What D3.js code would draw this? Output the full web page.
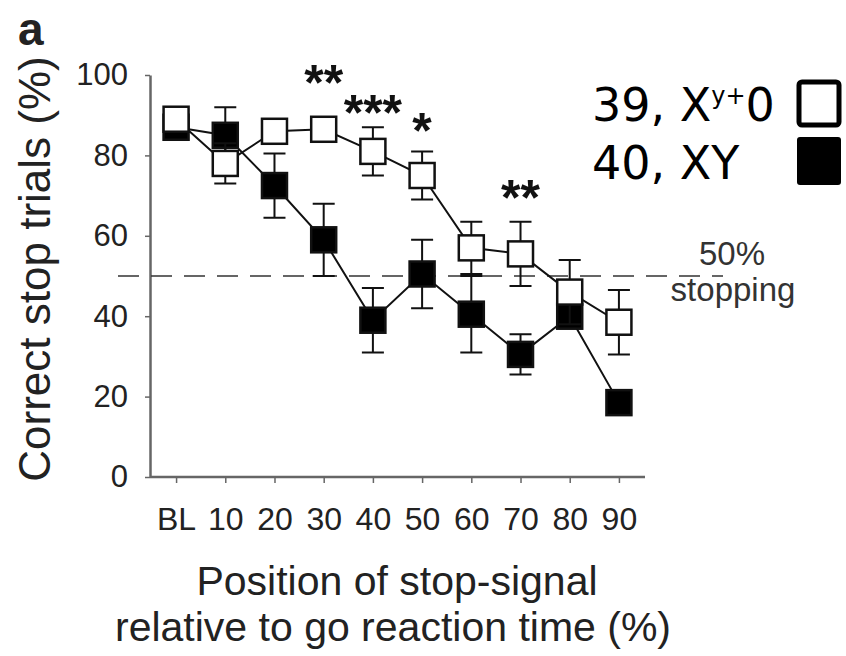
<!DOCTYPE html>
<html>
<head>
<meta charset="utf-8">
<script src="https://cdn.jsdelivr.net/npm/d3@7"></script>
<style>
  body { margin: 0; background: #fff; }
  svg { display: block; }
</style>
</head>
<body>
<svg id="chart" width="846" height="656"></svg>
<script>
const categories = ["BL", "10", "20", "30", "40", "50", "60", "70", "80", "90"];
const yTicks = [0, 20, 40, 60, 80, 100];

// 39, Xy+0 (open squares)
const openMean = [89, 78, 86, 86.5, 81, 75, 57, 55.5, 46, 38.5];
const openErr  = [2, 5, 3, 2, 6, 6, 6.5, 8, 8, 8];
// 40, XY (filled squares)
const filledMean = [87, 85, 72.5, 59, 39, 50.5, 40.5, 30.5, 40, 18.5];
const filledErr  = [2, 7, 8, 9, 8, 8.5, 9.5, 5, 3, 3];

const starCats  = ["30", "40", "50", "70"];
const starVals  = [101, 93.5, 89, 72.5];
const starTexts = ["**", "***", "*", "**"];

const threshold = 50;

const svg = d3.select("#chart");
const ink = "#222";
const sans = "Liberation Sans, Arial, sans-serif";

const x = d3.scalePoint()
    .domain(categories)
    .range([150, 645])
    .padding(0.53);

const y = d3.scaleLinear()
    .domain([0, 100])
    .range([477, 75]);

// panel letter
svg.append("text")
    .attr("x", 18).attr("y", 45)
    .attr("font-family", sans)
    .attr("font-weight", "bold")
    .attr("font-size", 46)
    .attr("fill", ink)
    .text("a");

// AXES
const yAxis = svg.append("g")
    .attr("transform", "translate(150,0)")
    .call(d3.axisLeft(y).tickValues(yTicks).tickSize(5).tickSizeOuter(0).tickPadding(17));

const xAxis = svg.append("g")
    .attr("transform", `translate(0,${y(0)})`)
    .call(d3.axisBottom(x).tickSize(6).tickSizeOuter(0).tickPadding(25));
xAxis.select(".domain").attr("d", `M150,0H645`);

[yAxis, xAxis].forEach(a => {
    a.select(".domain").attr("stroke", "#666").attr("stroke-width", 2.5);
    a.selectAll(".tick line").attr("stroke", "#666").attr("stroke-width", 1.5);
    a.selectAll(".tick text")
        .attr("fill", ink)
        .attr("font-family", sans)
        .attr("font-size", 31);
});
xAxis.selectAll(".tick text").attr("font-size", 32).attr("dy", "0.7em");

// axis titles
svg.append("text")
    .attr("transform", "translate(50,269) rotate(-90)")
    .attr("text-anchor", "middle")
    .attr("font-family", sans)
    .attr("font-size", 44)
    .attr("fill", ink)
    .text("Correct stop trials (%)");

const xTitle = svg.append("text")
    .attr("text-anchor", "middle")
    .attr("font-family", sans)
    .attr("font-size", 41)
    .attr("fill", ink);
xTitle.append("tspan").attr("x", 397).attr("y", 595).text("Position of stop-signal");
xTitle.append("tspan").attr("x", 393).attr("y", 641).text("relative to go reaction time (%)");

// 50% line
svg.append("line")
    .attr("x1", 118).attr("x2", 723)
    .attr("y1", y(threshold)).attr("y2", y(threshold))
    .attr("stroke", "#333")
    .attr("stroke-width", 1.6)
    .attr("stroke-dasharray", "21,12");

const thrLabel = svg.append("text")
    .attr("text-anchor", "middle")
    .attr("font-family", sans)
    .attr("font-size", 33)
    .attr("fill", "#333");
thrLabel.append("tspan").attr("x", 732).attr("y", 265).text("50%");
thrLabel.append("tspan").attr("x", 733).attr("y", 301).text("stopping");

// series
const sq = 25, cap = 22;
function drawSeries(means, errs, fill) {
    const data = categories.map((c, i) => ({ c, m: means[i], e: errs[i] }));
    const g = svg.append("g");
    g.selectAll(".err").data(data).enter().append("path")
        .attr("fill", "none").attr("stroke", "#111").attr("stroke-width", 2)
        .attr("d", d => {
            const cx = x(d.c), y1 = y(d.m + d.e), y2 = y(d.m - d.e);
            return `M${cx},${y1}V${y2}M${cx - cap / 2},${y1}h${cap}M${cx - cap / 2},${y2}h${cap}`;
        });
    g.append("path").datum(data)
        .attr("fill", "none").attr("stroke", "#111").attr("stroke-width", 2)
        .attr("d", d3.line().x(d => x(d.c)).y(d => y(d.m)));
    g.selectAll(".pt").data(data).enter().append("rect")
        .attr("x", d => x(d.c) - sq / 2)
        .attr("y", d => y(d.m) - sq / 2)
        .attr("width", sq).attr("height", sq)
        .attr("fill", fill)
        .attr("stroke", "#111")
        .attr("stroke-width", 2.5);
}
drawSeries(filledMean, filledErr, "#000");
drawSeries(openMean, openErr, "#fff");

// significance stars
svg.selectAll(".star").data(starCats).enter().append("text")
    .attr("x", d => x(d))
    .attr("y", (d, i) => y(starVals[i]) + 29)
    .attr("text-anchor", "middle")
    .attr("font-family", sans)
    .attr("font-weight", "bold")
    .attr("font-size", 50)
    .attr("fill", "#111")
    .text((d, i) => starTexts[i]);

// legend
const legFont = "DejaVu Sans, sans-serif";
const l1 = svg.append("text")
    .attr("x", 592).attr("y", 121)
    .attr("font-family", legFont).attr("font-size", 46).attr("fill", "#000");
l1.append("tspan").text("39, X");
l1.append("tspan").attr("font-size", 24).attr("dy", -17).text("y+");
l1.append("tspan").attr("dy", 17).text("0");

svg.append("text")
    .attr("x", 592).attr("y", 179)
    .attr("font-family", legFont).attr("font-size", 46).attr("fill", "#000")
    .text("40, XY");

svg.append("rect").attr("x", 799).attr("y", 82).attr("width", 40).attr("height", 43)
    .attr("rx", 3).attr("fill", "#fff").attr("stroke", "#000").attr("stroke-width", 5);
svg.append("rect").attr("x", 797).attr("y", 137).attr("width", 44).attr("height", 48)
    .attr("rx", 3).attr("fill", "#000");
</script>
</body>
</html>
